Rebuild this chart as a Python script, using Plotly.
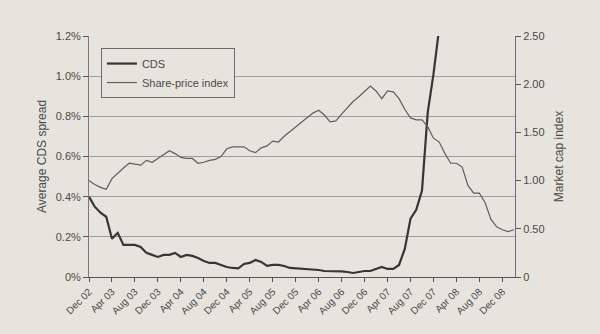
import plotly.graph_objects as go

# Month index 0 = Dec 2002, monthly observations
months = list(range(0, 75))

# Average CDS spread, % (rises off the top of the scale in late 2007)
cds_spread = [
    0.40, 0.35, 0.32, 0.30, 0.19, 0.22, 0.16, 0.16, 0.16, 0.15,
    0.12, 0.11, 0.10, 0.11, 0.11, 0.12, 0.10, 0.11, 0.105, 0.095,
    0.08, 0.07, 0.07, 0.06, 0.05, 0.045, 0.043, 0.065, 0.07, 0.085,
    0.075, 0.055, 0.06, 0.06, 0.055, 0.045, 0.043, 0.04, 0.04, 0.037,
    0.035, 0.03, 0.03, 0.03, 0.028, 0.025, 0.02, 0.025, 0.03, 0.03,
    0.04, 0.05, 0.04, 0.04, 0.06, 0.14, 0.29, 0.335, 0.43, 0.82,
    1.01, 1.25, 1.55, 1.70, 1.80, 1.95, 2.10, 2.20, 2.30, 2.60,
    2.90, 3.10, 3.00, 2.90, 2.95,
]

# Market capitalisation index (Dec 2002 = 1)
share_index = [
    1.00, 0.96, 0.93, 0.91, 1.02, 1.08, 1.13, 1.18, 1.17, 1.16,
    1.21, 1.19, 1.23, 1.27, 1.31, 1.28, 1.24, 1.23, 1.23, 1.18,
    1.19, 1.21, 1.22, 1.25, 1.33, 1.35, 1.35, 1.35, 1.31, 1.29,
    1.34, 1.36, 1.41, 1.40, 1.46, 1.51, 1.55, 1.60, 1.66, 1.70,
    1.73, 1.68, 1.61, 1.62, 1.69, 1.76, 1.82, 1.87, 1.93, 1.98,
    1.93, 1.85, 1.93, 1.92, 1.85, 1.74, 1.65, 1.63, 1.63, 1.56,
    1.44, 1.40, 1.28, 1.18, 1.18, 1.14, 0.95, 0.87, 0.87, 0.77,
    0.60, 0.52, 0.49, 0.47, 0.49,
]

x_tick_vals = list(range(0, 73, 4))
x_tick_text = [
    "Dec 02", "Apr 03", "Aug 03", "Dec 03", "Apr 04", "Aug 04", "Dec 04",
    "Apr 05", "Aug 05", "Dec 05", "Apr 06", "Aug 06", "Dec 06", "Apr 07",
    "Aug 07", "Dec 07", "Apr 08", "Aug 08", "Dec 08",
]
left_tick_vals = [0, 0.2, 0.4, 0.6, 0.8, 1.0, 1.2]
left_tick_text = ["0%", "0.2%", "0.4%", "0.6%", "0.8%", "1.0%", "1.2%"]
right_tick_vals = [0, 0.5, 1.0, 1.5, 2.0, 2.5]
right_tick_text = ["0", "0.50", "1.00", "1.50", "2.00", "2.50"]

paper = "#e6e4dc"
ink = "#4a4a4a"
font_family = "Liberation Sans, Arial, sans-serif"

fig = go.Figure()
fig.add_trace(go.Scatter(
    x=months, y=cds_spread, name="CDS", mode="lines",
    line=dict(color="#363636", width=2.2), yaxis="y",
))
fig.add_trace(go.Scatter(
    x=months, y=share_index, name="Share-price index", mode="lines",
    line=dict(color="#5e5e5e", width=1.2), yaxis="y2",
))

fig.update_layout(
    width=600, height=334,
    margin=dict(l=89, r=85, t=36, b=57),
    paper_bgcolor=paper, plot_bgcolor=paper,
    font=dict(family=font_family, size=11, color=ink),
    showlegend=True,
    legend=dict(
        x=0.028, y=0.95, xanchor="left", yanchor="top",
        bgcolor=paper, bordercolor="#6a6a6a", borderwidth=1,
        font=dict(size=11, color=ink),
        itemwidth=30, entrywidth=145, entrywidthmode="pixels",
        tracegroupgap=0,
    ),
    xaxis=dict(
        range=[0, 74.2], tickvals=x_tick_vals, ticktext=x_tick_text,
        tickangle=-45, tickfont=dict(size=10, color=ink),
        ticks="outside", ticklen=4, tickcolor="#555555",
        showline=True, linecolor="#555555", linewidth=1,
        showgrid=False, zeroline=False,
    ),
    yaxis=dict(
        range=[0, 1.2], tickvals=left_tick_vals, ticktext=left_tick_text,
        ticks="outside", ticklen=5, tickcolor="#555555",
        showline=True, linecolor="#8a6f7a", linewidth=1,
        showgrid=True, gridcolor="#9c9c9c", gridwidth=1,
        zeroline=False,
        title=dict(text="Average CDS spread", standoff=6,
                   font=dict(size=12, color=ink)),
    ),
    yaxis2=dict(
        range=[0, 2.5], tickvals=right_tick_vals, ticktext=right_tick_text,
        overlaying="y", side="right",
        ticks="outside", ticklen=5, tickcolor="#555555",
        showline=True, linecolor="#6a6a8a", linewidth=1,
        showgrid=False, zeroline=False,
        title=dict(text="Market cap index", standoff=10,
                   font=dict(size=12, color=ink)),
    ),
)

fig.write_html("out.html")
